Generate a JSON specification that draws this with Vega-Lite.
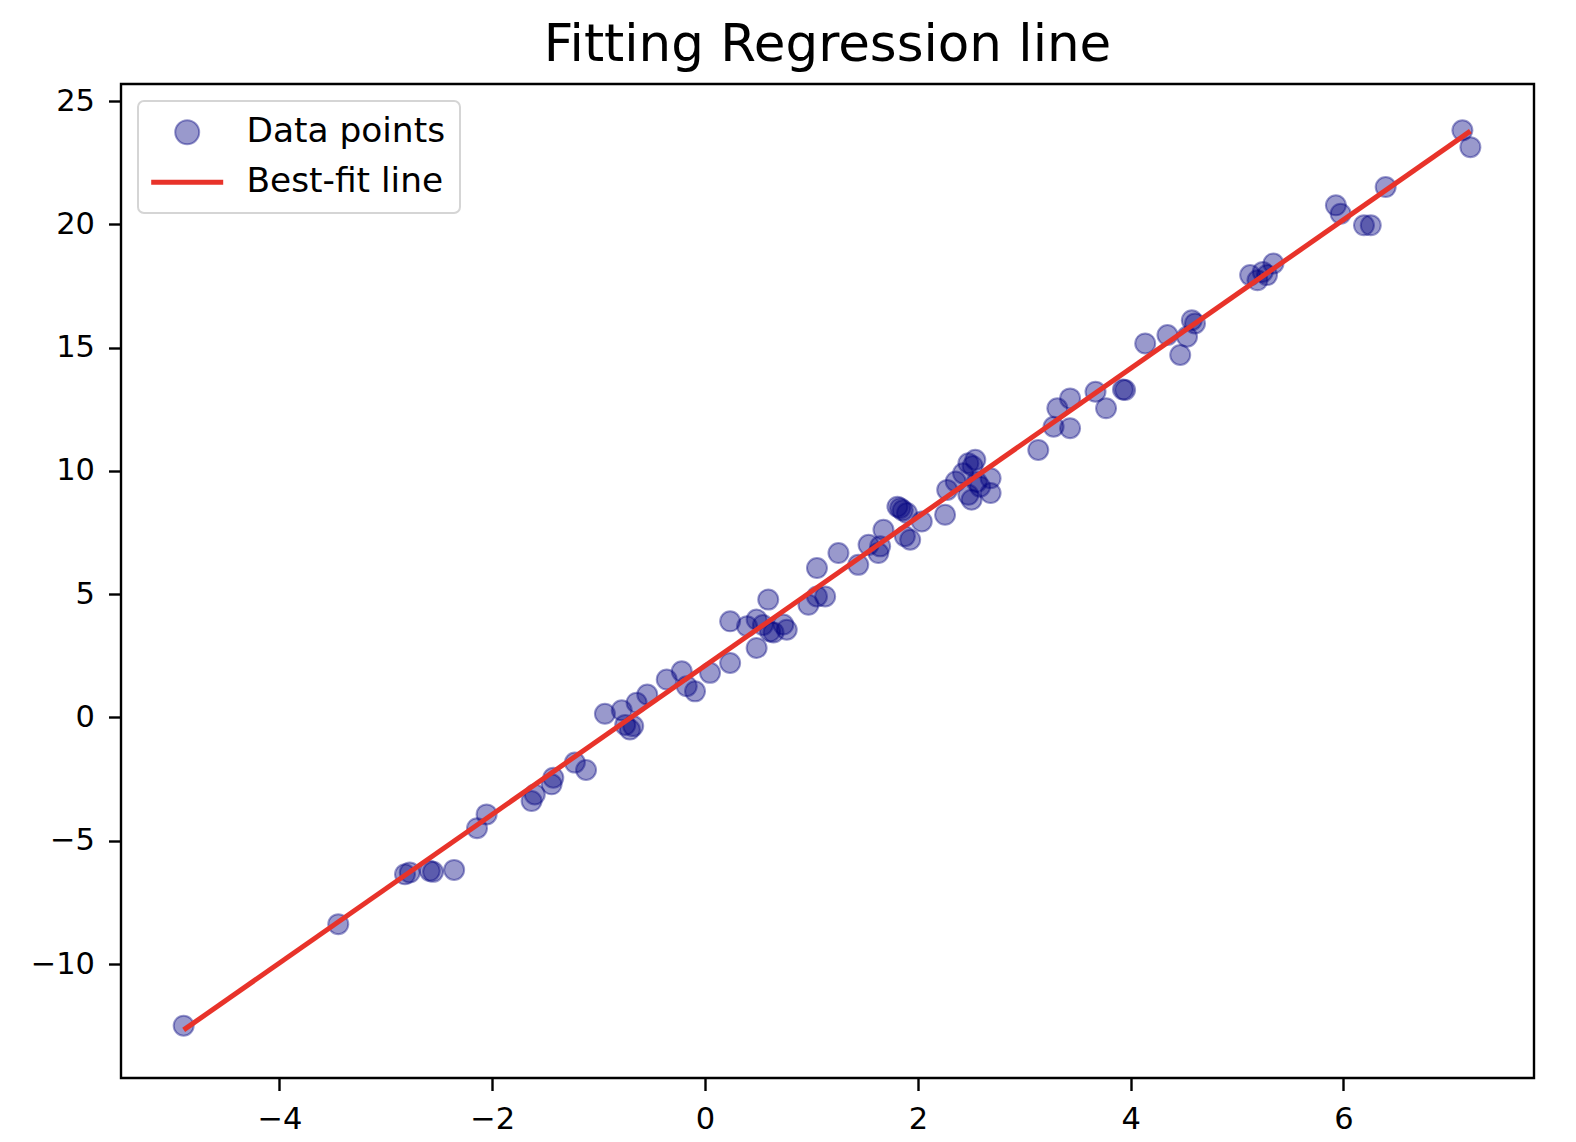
{
  "$schema": "https://vega.github.io/schema/vega-lite/v6.json",
  "autosize": "none",
  "width": 1413,
  "height": 994,
  "padding": {"left": 121, "top": 84, "right": 42, "bottom": 64},
  "background": "white",
  "title": {"text": "Fitting Regression line", "font": "DejaVu Sans", "fontSize": 51.5, "fontWeight": "normal", "color": "black", "anchor": "middle", "offset": 13},
  "config": {
    "view": {"stroke": "black", "strokeWidth": 2.4},
    "axis": {"domain": false, "grid": false, "title": null, "tickColor": "black", "tickWidth": 2.4, "tickSize": 12.5, "labelFont": "DejaVu Sans", "labelFontSize": 30.5, "labelColor": "black"},
    "axisX": {"labelPadding": 14},
    "axisY": {"labelPadding": 14},
    "legend": {
      "title": null,
      "orient": "top-left",
      "offset": 17,
      "padding": 14,
      "strokeColor": "#d5d5d5",
      "strokeWidth": 2,
      "fillColor": "white",
      "cornerRadius": 6,
      "labelFont": "DejaVu Sans",
      "labelFontSize": 34.4,
      "labelColor": "black",
      "labelLimit": 600,
      "symbolSize": 576,
      "symbolOffset": 18,
      "labelOffset": 42,
      "rowPadding": 15
    }
  },
  "datasets": {
    "pts": [
      {"x": -4.9, "y": -12.5, "series": "Data points"},
      {"x": -3.447, "y": -8.38, "series": "Data points"},
      {"x": -2.82, "y": -6.36, "series": "Data points"},
      {"x": -2.775, "y": -6.29, "series": "Data points"},
      {"x": -2.587, "y": -6.22, "series": "Data points"},
      {"x": -2.556, "y": -6.26, "series": "Data points"},
      {"x": -2.358, "y": -6.18, "series": "Data points"},
      {"x": -2.143, "y": -4.49, "series": "Data points"},
      {"x": -2.053, "y": -3.93, "series": "Data points"},
      {"x": -1.63, "y": -3.39, "series": "Data points"},
      {"x": -1.6, "y": -3.12, "series": "Data points"},
      {"x": -1.442, "y": -2.71, "series": "Data points"},
      {"x": -1.426, "y": -2.44, "series": "Data points"},
      {"x": -1.223, "y": -1.83, "series": "Data points"},
      {"x": -1.118, "y": -2.13, "series": "Data points"},
      {"x": -0.941, "y": 0.15, "series": "Data points"},
      {"x": -0.783, "y": 0.29, "series": "Data points"},
      {"x": -0.706, "y": -0.49, "series": "Data points"},
      {"x": -0.675, "y": -0.35, "series": "Data points"},
      {"x": -0.75, "y": -0.3, "series": "Data points"},
      {"x": -0.643, "y": 0.6, "series": "Data points"},
      {"x": -0.543, "y": 0.93, "series": "Data points"},
      {"x": -0.36, "y": 1.54, "series": "Data points"},
      {"x": -0.219, "y": 1.87, "series": "Data points"},
      {"x": -0.172, "y": 1.27, "series": "Data points"},
      {"x": -0.094, "y": 1.06, "series": "Data points"},
      {"x": 0.047, "y": 1.81, "series": "Data points"},
      {"x": 0.236, "y": 2.21, "series": "Data points"},
      {"x": 0.236, "y": 3.9, "series": "Data points"},
      {"x": 0.395, "y": 3.7, "series": "Data points"},
      {"x": 0.485, "y": 3.97, "series": "Data points"},
      {"x": 0.485, "y": 2.82, "series": "Data points"},
      {"x": 0.594, "y": 4.78, "series": "Data points"},
      {"x": 0.611, "y": 3.49, "series": "Data points"},
      {"x": 0.736, "y": 3.77, "series": "Data points"},
      {"x": 0.768, "y": 3.56, "series": "Data points"},
      {"x": 0.544, "y": 3.75, "series": "Data points"},
      {"x": 0.644, "y": 3.45, "series": "Data points"},
      {"x": 0.972, "y": 4.57, "series": "Data points"},
      {"x": 1.052, "y": 4.91, "series": "Data points"},
      {"x": 1.129, "y": 4.91, "series": "Data points"},
      {"x": 1.052, "y": 6.06, "series": "Data points"},
      {"x": 1.254, "y": 6.67, "series": "Data points"},
      {"x": 1.44, "y": 6.19, "series": "Data points"},
      {"x": 1.537, "y": 7.0, "series": "Data points"},
      {"x": 1.629, "y": 6.67, "series": "Data points"},
      {"x": 1.646, "y": 6.94, "series": "Data points"},
      {"x": 1.677, "y": 7.61, "series": "Data points"},
      {"x": 1.834, "y": 8.49, "series": "Data points"},
      {"x": 1.808, "y": 8.55, "series": "Data points"},
      {"x": 1.858, "y": 8.4, "series": "Data points"},
      {"x": 1.898, "y": 8.29, "series": "Data points"},
      {"x": 1.928, "y": 7.21, "series": "Data points"},
      {"x": 1.878, "y": 7.35, "series": "Data points"},
      {"x": 2.037, "y": 7.95, "series": "Data points"},
      {"x": 2.256, "y": 8.22, "series": "Data points"},
      {"x": 2.276, "y": 9.23, "series": "Data points"},
      {"x": 2.356, "y": 9.57, "series": "Data points"},
      {"x": 2.475, "y": 10.31, "series": "Data points"},
      {"x": 2.515, "y": 10.2, "series": "Data points"},
      {"x": 2.54, "y": 10.45, "series": "Data points"},
      {"x": 2.505, "y": 8.83, "series": "Data points"},
      {"x": 2.475, "y": 9.03, "series": "Data points"},
      {"x": 2.585, "y": 9.36, "series": "Data points"},
      {"x": 2.684, "y": 9.7, "series": "Data points"},
      {"x": 2.684, "y": 9.1, "series": "Data points"},
      {"x": 2.425, "y": 9.9, "series": "Data points"},
      {"x": 2.555, "y": 9.55, "series": "Data points"},
      {"x": 3.132, "y": 10.85, "series": "Data points"},
      {"x": 3.276, "y": 11.79, "series": "Data points"},
      {"x": 3.431, "y": 11.73, "series": "Data points"},
      {"x": 3.311, "y": 12.54, "series": "Data points"},
      {"x": 3.431, "y": 12.94, "series": "Data points"},
      {"x": 3.67, "y": 13.21, "series": "Data points"},
      {"x": 3.769, "y": 12.54, "series": "Data points"},
      {"x": 3.948, "y": 13.28, "series": "Data points"},
      {"x": 3.928, "y": 13.3, "series": "Data points"},
      {"x": 4.137, "y": 15.17, "series": "Data points"},
      {"x": 4.346, "y": 15.51, "series": "Data points"},
      {"x": 4.466, "y": 14.7, "series": "Data points"},
      {"x": 4.53, "y": 15.44, "series": "Data points"},
      {"x": 4.575, "y": 16.11, "series": "Data points"},
      {"x": 4.605, "y": 15.98, "series": "Data points"},
      {"x": 5.123, "y": 17.94, "series": "Data points"},
      {"x": 5.192, "y": 17.73, "series": "Data points"},
      {"x": 5.242, "y": 18.07, "series": "Data points"},
      {"x": 5.282, "y": 17.94, "series": "Data points"},
      {"x": 5.342, "y": 18.41, "series": "Data points"},
      {"x": 5.929, "y": 20.77, "series": "Data points"},
      {"x": 5.974, "y": 20.43, "series": "Data points"},
      {"x": 6.193, "y": 19.96, "series": "Data points"},
      {"x": 6.257, "y": 19.96, "series": "Data points"},
      {"x": 6.397, "y": 21.51, "series": "Data points"},
      {"x": 7.118, "y": 23.81, "series": "Data points"},
      {"x": 7.193, "y": 23.13, "series": "Data points"}
    ],
    "fit": [
      {"x": -4.9, "y": -12.67, "series": "Best-fit line"},
      {"x": 7.193, "y": 23.78, "series": "Best-fit line"}
    ]
  },
  "layer": [
    {
      "data": {"name": "pts"},
      "mark": {"type": "point", "shape": "circle", "filled": true, "size": 400, "fillOpacity": 0.4, "stroke": "#000080", "strokeOpacity": 0.4, "strokeWidth": 2},
      "encoding": {
        "x": {"field": "x", "type": "quantitative", "scale": {"domain": [-5.489, 7.791], "nice": false, "zero": false}, "axis": {"values": [-4, -2, 0, 2, 4, 6], "format": "~g"}},
        "y": {"field": "y", "type": "quantitative", "scale": {"domain": [-14.62, 25.69], "nice": false, "zero": false}, "axis": {"values": [-10, -5, 0, 5, 10, 15, 20, 25], "format": "~g"}},
        "color": {
          "field": "series", "type": "nominal",
          "scale": {"domain": ["Data points", "Best-fit line"], "range": ["#000080", "#e8332a"]},
          "legend": {
            "encode": {
              "symbols": {
                "update": {
                  "shape": {"signal": "datum.value === 'Best-fit line' ? 'M-3,0H3' : 'circle'"},
                  "fill": {"signal": "datum.value === 'Best-fit line' ? 'transparent' : '#000080'"},
                  "fillOpacity": {"value": 0.4},
                  "stroke": {"signal": "datum.value === 'Best-fit line' ? '#e8332a' : '#000080'"},
                  "strokeOpacity": {"signal": "datum.value === 'Best-fit line' ? 1 : 0.4"},
                  "strokeWidth": {"signal": "datum.value === 'Best-fit line' ? 5 : 2"},
                  "opacity": {"value": 1}
                }
              }
            }
          }
        }
      }
    },
    {
      "data": {"name": "fit"},
      "mark": {"type": "line", "strokeWidth": 5},
      "encoding": {
        "x": {"field": "x", "type": "quantitative"},
        "y": {"field": "y", "type": "quantitative"},
        "color": {
          "field": "series", "type": "nominal",
          "legend": {
            "encode": {
              "symbols": {
                "update": {
                  "shape": {"signal": "datum.value === 'Best-fit line' ? 'M-3,0H3' : 'circle'"},
                  "fill": {"signal": "datum.value === 'Best-fit line' ? 'transparent' : '#000080'"},
                  "fillOpacity": {"value": 0.4},
                  "stroke": {"signal": "datum.value === 'Best-fit line' ? '#e8332a' : '#000080'"},
                  "strokeOpacity": {"signal": "datum.value === 'Best-fit line' ? 1 : 0.4"},
                  "strokeWidth": {"signal": "datum.value === 'Best-fit line' ? 5 : 2"},
                  "opacity": {"value": 1}
                }
              }
            }
          }
        }
      }
    }
  ]
}
